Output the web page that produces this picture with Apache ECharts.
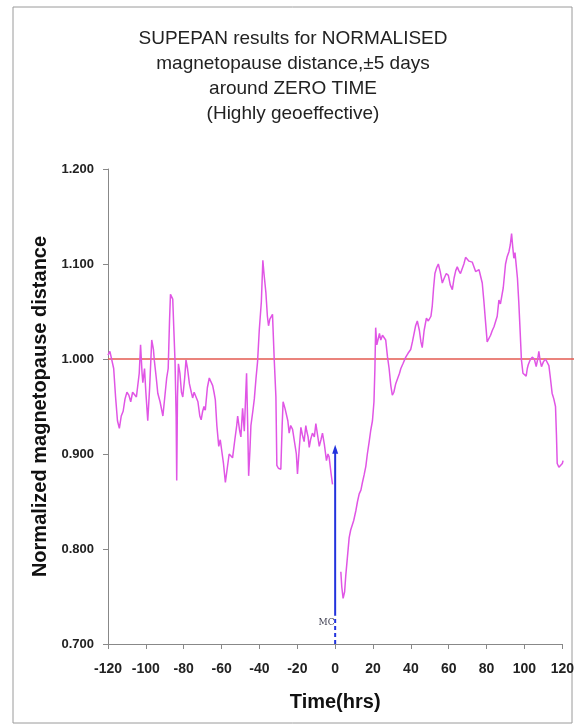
<!DOCTYPE html>
<html>
<head>
<meta charset="utf-8">
<script src="https://cdn.jsdelivr.net/npm/echarts@6/dist/echarts.min.js"></script>
<style>
html,body{margin:0;padding:0;background:#fff;}
#chart{width:577px;height:727px;}
</style>
</head>
<body>
<div id="chart"></div>
<script>
// SUPEPAN normalised magnetopause distance, +-5 days around zero time
var hours = [
  -120,-119,-118,-117,-116,-115,-114,-113,-112,-111,-110,-109,-108,-107,-106,-105,-104.3,-103.5,-102.8,-102,
  -101.6,-100.7,-100,-99,-98,-96.9,-96,-95.5,-94.5,-93.7,-92.5,-91.5,-91,-90,-89,-88.2,-87.5,-87,-86.3,-85.8,
  -85.2,-84.6,-84,-83.7,-83.3,-82.8,-82,-81.2,-80.5,-79.5,-78.8,-78,-77,-76,-75.3,-74.5,-73.5,-72.5,-71.5,-70.8,
  -70,-69.3,-68.6,-67.5,-66.5,-65.5,-64.7,-64,-63.3,-62.5,-61.5,-60.7,-59.8,-59,-58,-57,-56,-55,-54.2,-53,
  -52,-51.5,-50.5,-49.8,-48.9,-48,-47.3,-46.8,-46.2,-45.7,-45,-44.5,-43.5,-42.7,-41.8,-41,-40.1,-39,-38.2,-37.6,
  -36.6,-35.8,-35.2,-34.5,-33.5,-33.1,-32.2,-31.3,-30.8,-30,-28.7,-28,-27.5,-26.5,-26,-25,-24.3,-23.5,-22.5,-21.5,
  -20.5,-19.9,-19,-18.1,-17.3,-16.4,-15.5,-15.1,-14.3,-13.7,-13,-12,-11,-10.2,-9.3,-8.4,-7.5,-6.7,-5.7,-4.6,
  -3.8,-3.2,-2.2,-1.4,1,
  3,3.5,4.2,5,5.6,6.5,7.4,8.2,8.8,9.8,10.9,11.8,12.7,13.6,14.4,15.3,16.2,17,17.9,18.8,
  19.7,20.5,21,21.4,22,22.6,23.4,24.1,25,25.8,26.7,27.6,28.5,29.4,30.2,31,32,33,34,34.7,
  35.8,37.3,38.5,39.9,40.8,41.7,42.5,43.4,44.5,45.3,46,47,48.2,49.2,49.9,50.6,51.3,52,52.7,53.6,
  54.5,55.5,56.6,57.6,58.7,59.8,60.8,61.9,62.8,63.7,64.5,65.3,66.2,67.1,68,68.9,69.8,70.7,71.6,72.4,
  73.3,74.2,75.1,76,76.8,77.7,78.6,79.4,80.3,81.2,82.1,83,83.9,84.8,85.6,86.5,87.3,87.9,88.8,90,
  90.9,91.8,92.5,93.2,93.8,94.4,95,95.6,96.3,97,97.7,98.4,99.2,100,100.9,101.5,102,103,104.1,105.2,
  106.2,107,107.6,108.3,109,110,111.1,112,112.9,113.7,114.6,115.5,116.4,116.9,117.3,118.2,119.1,120,120.4
];
var distance = [
  1.004,1.008,1.007,0.990,0.960,0.935,0.927,0.940,0.945,0.958,0.965,0.962,0.955,0.965,0.966,0.960,0.962,0.985,1.015,0.985,
  0.975,0.990,0.965,0.935,0.970,1.020,1.010,0.998,0.980,0.964,0.955,0.945,0.940,0.960,0.980,0.990,1.040,1.068,1.067,1.063,
  1.030,0.998,0.940,0.872,0.960,0.995,0.985,0.965,0.960,0.980,0.999,0.990,0.974,0.965,0.959,0.965,0.967,0.955,0.940,0.936,
  0.945,0.950,0.946,0.970,0.980,0.978,0.972,0.965,0.957,0.930,0.908,0.915,0.914,0.890,0.870,0.885,0.900,0.902,0.896,0.915,
  0.930,0.940,0.925,0.918,0.948,0.924,0.960,0.985,0.930,0.877,0.905,0.930,0.945,0.958,0.980,0.997,1.030,1.060,1.104,1.090,
  1.070,1.045,1.035,1.042,1.040,1.047,1.000,0.960,0.888,0.885,0.884,0.930,0.955,0.948,0.950,0.935,0.922,0.930,0.926,0.925,
  0.900,0.879,0.905,0.928,0.920,0.913,0.930,0.925,0.918,0.907,0.915,0.922,0.918,0.932,0.920,0.908,0.915,0.922,0.910,0.893,
  0.900,0.897,0.880,0.868,null,
  0.776,0.760,0.748,0.755,0.772,0.792,0.812,0.820,0.818,0.830,0.840,0.850,0.858,0.862,0.870,0.878,0.887,0.900,0.912,0.925,
  0.935,0.955,0.990,1.033,1.015,1.020,1.027,1.020,1.025,1.024,1.020,1.003,0.990,0.972,0.962,0.965,0.974,0.975,0.985,0.990,
  0.995,1.002,1.006,1.010,1.018,1.027,1.035,1.040,1.030,1.018,1.012,1.030,1.043,1.040,1.038,1.045,1.056,1.075,1.090,1.096,
  1.100,1.092,1.080,1.085,1.090,1.088,1.078,1.073,1.085,1.093,1.097,1.093,1.090,1.092,1.100,1.107,1.106,1.103,1.104,1.102,
  1.097,1.092,1.090,1.094,1.092,1.080,1.060,1.040,1.018,1.020,1.025,1.030,1.034,1.034,1.045,1.062,1.058,1.056,1.075,1.100,
  1.108,1.113,1.120,1.132,1.118,1.106,1.112,1.110,1.085,1.060,1.030,0.999,0.985,0.984,0.982,0.990,0.994,0.999,1.002,1.000,
  0.992,1.000,1.008,0.998,0.992,0.997,1.000,0.998,0.993,0.980,0.964,0.958,0.950,0.920,0.890,0.886,0.884,0.890,0.893
];
var refLevel = 1.0;
var refHours = [-120, 125.8];
var mcHours = 0;
var mcDashed = [0.700, 0.730];
var mcSolid = [0.730, 0.905];
var xTicks = [-120, 120, 20];
var yTicks = [0.7, 1.2, 0.1];

var myChart = echarts.init(document.getElementById('chart'));

var lineData = [];
for (var i = 0; i < hours.length; i++) {
  lineData.push([hours[i], distance[i]]);
}
var refData = [];
for (var r = 0; r < refHours.length; r++) {
  refData.push([refHours[r], refLevel]);
}

var option = {
  animation: false,
  backgroundColor: '#fff',
  graphic: [
    {
      type: 'rect',
      shape: {x: 13, y: 7, width: 559, height: 716},
      style: {fill: 'none', stroke: '#9a9a9a', lineWidth: 1}
    },
    {
      type: 'text',
      x: 293, y: 26,
      style: {
        text: 'SUPEPAN results for NORMALISED\nmagnetopause distance,\u00b15 days\naround ZERO TIME\n(Highly geoeffective)',
        textAlign: 'center',
        font: '19px "Liberation Sans", Arial, sans-serif',
        lineHeight: 25,
        fill: '#222'
      }
    }
  ],
  grid: [
    {left: 108, right: 14, top: 169, bottom: 83, containLabel: false},
    // wider twin grid so the red 1.000 line runs on to the frame
    {left: 108, right: 3, top: 169, bottom: 83, containLabel: false}
  ],
  xAxis: [
    {
      type: 'value',
      gridIndex: 0,
      min: xTicks[0], max: xTicks[1], interval: xTicks[2],
      name: 'Time(hrs)',
      nameLocation: 'middle',
      nameGap: 48,
      nameTextStyle: {fontFamily: 'Liberation Sans', fontWeight: 'bold', fontSize: 20, color: '#111'},
      axisLine: {onZero: false, lineStyle: {color: '#888', width: 1}},
      axisTick: {inside: false, length: 5, lineStyle: {color: '#888'}},
      axisLabel: {margin: 18, fontFamily: 'Liberation Sans', fontWeight: 'bold', fontSize: 14, color: '#222'},
      splitLine: {show: false}
    },
    {
      type: 'value', gridIndex: 1,
      min: refHours[0], max: refHours[1],
      show: false
    }
  ],
  yAxis: [
    {
      type: 'value',
      gridIndex: 0,
      min: yTicks[0], max: yTicks[1], interval: yTicks[2],
      name: 'Normalized magnetopause distance',
      nameLocation: 'middle',
      nameGap: 58,
      nameTextStyle: {fontFamily: 'Liberation Sans', fontWeight: 'bold', fontSize: 20, color: '#111'},
      axisLine: {show: true, onZero: false, lineStyle: {color: '#888', width: 1}},
      axisTick: {show: true, length: 5, lineStyle: {color: '#888'}},
      axisLabel: {
        margin: 14, fontFamily: 'Liberation Sans', fontWeight: 'bold', fontSize: 13, color: '#222',
        formatter: function (v) { return v.toFixed(3); }
      },
      splitLine: {show: false}
    },
    {
      type: 'value', gridIndex: 1,
      min: yTicks[0], max: yTicks[1],
      show: false
    }
  ],
  series: [
    {
      name: 'reference',
      type: 'line',
      xAxisIndex: 1, yAxisIndex: 1,
      data: refData,
      symbol: 'none',
      lineStyle: {color: '#e35a50', width: 1.5},
      z: 1
    },
    {
      name: 'distance',
      type: 'line',
      data: lineData,
      connectNulls: false,
      symbol: 'none',
      lineStyle: {color: '#e055e5', width: 1.5},
      z: 2
    },
    {
      name: 'MC dashed',
      type: 'line',
      data: [[mcHours, mcDashed[0]], [mcHours, mcDashed[1]]],
      clip: false,
      symbol: 'none',
      lineStyle: {color: '#2233dd', width: 2, type: [4, 3]},
      z: 3
    },
    {
      name: 'MC arrow',
      type: 'line',
      data: [[mcHours, mcSolid[0]], [mcHours, mcSolid[1]]],
      symbol: function (val) { return val[1] === mcSolid[1] ? 'triangle' : 'none'; },
      symbolSize: [6, 9],
      showSymbol: true,
      itemStyle: {color: '#2233dd'},
      lineStyle: {color: '#2233dd', width: 2},
      z: 3,
      markPoint: {
        symbol: 'circle',
        symbolSize: 0,
        data: [{coord: [-4.5, 0.722], value: 'MC'}],
        label: {
          show: true, position: 'inside', formatter: 'MC',
          fontFamily: 'DejaVu Serif', fontSize: 9, color: '#445'
        }
      }
    }
  ]
};
myChart.setOption(option, true);
</script>
</body>
</html>
